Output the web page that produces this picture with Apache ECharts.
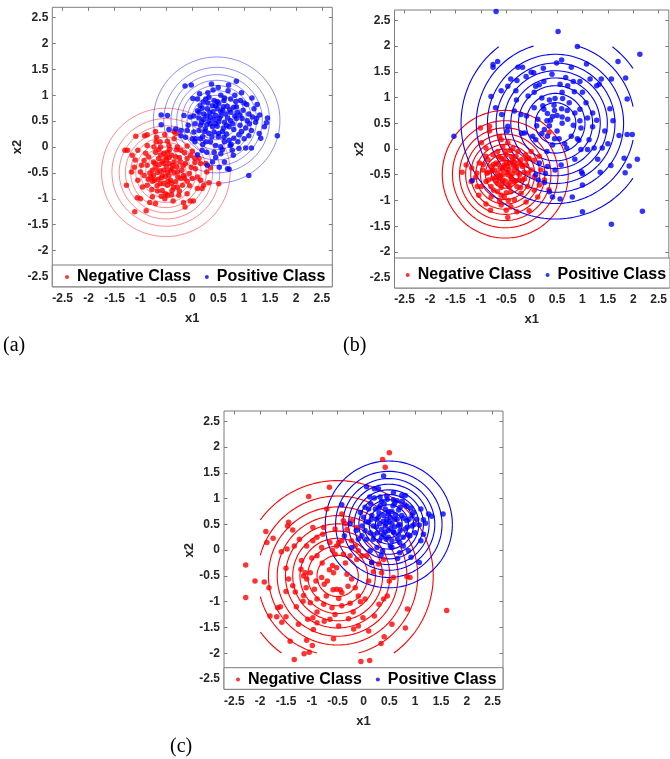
<!DOCTYPE html>
<html>
<head>
<meta charset="utf-8">
<script src="https://cdn.jsdelivr.net/npm/echarts@6/dist/echarts.min.js"></script>
<style>
  html, body { margin: 0; padding: 0; background: #fff; }
  #chart { width: 670px; height: 759px; }
</style>
</head>
<body>
<div id="chart"></div>
<script>
// ---- tick values shared by every panel ----
const tickValues = [-2.5, -2, -1.5, -1, -0.5, 0, 0.5, 1, 1.5, 2, 2.5];
const axisMin = -2.7, axisMax = 2.7;
const classNames = ['Negative Class', 'Positive Class'];
const panelTags = ['(a)', '(b)', '(c)'];

// ---- panel (a): samples ----
const negA = [[-1.11,-1.25],[-0.89,-1.23],[-1.27,-0.74],[-1.30,-0.06],[-1.25,-0.06],[-1.09,0.21],[-0.92,0.22],[-0.87,0.24],[-0.71,0.30],[-0.69,0.19],[-0.53,0.24],[-0.35,0.30],[-0.31,0.26],[-1.06,-0.98],[-1.00,-1.00],[-0.82,-1.07],[-0.71,-1.09],[-0.53,-1.00],[-0.48,-0.93],[-0.37,-1.04],[-0.17,-1.07],[-0.14,-1.16],[-0.04,-1.04],[0.02,-1.04],[0.19,-0.80],[0.22,-0.74],[0.32,-0.69],[0.51,-0.71],[0.35,-0.40],[0.28,-0.48],[0.16,-0.32],[0.13,-0.22],[0.05,-0.21],[-0.03,-0.16],[-0.15,-0.11],[-0.10,0.02],[-0.22,-0.06],[-0.29,0.00],[-0.45,0.03],[-0.61,0.00],[-0.74,0.00],[-0.87,0.03],[-1.05,-0.06],[-1.16,-0.16],[-1.12,-0.39],[-1.17,-0.48],[-1.00,-0.48],[-1.05,-0.64],[-0.96,-0.77],[-0.87,-0.74],[-0.77,-0.66],[-0.67,-0.85],[-0.58,-0.84],[-0.62,-0.71],[-0.48,-0.74],[-0.39,-0.84],[-0.29,-0.77],[-0.19,-0.74],[-0.10,-0.66],[0.00,-0.61],[0.10,-0.58],[-0.06,-0.51],[-0.17,-0.55],[-0.29,-0.48],[-0.39,-0.42],[-0.48,-0.48],[-0.58,-0.55],[-0.67,-0.49],[-0.77,-0.45],[-0.87,-0.35],[-0.75,-0.29],[-0.64,-0.34],[-0.55,-0.32],[-0.45,-0.32],[-0.35,-0.29],[-0.24,-0.29],[-0.13,-0.32],[-0.02,-0.39],[0.06,-0.42],[-0.61,-0.16],[-0.51,-0.19],[-0.40,-0.16],[-0.32,-0.19],[-0.48,-0.10],[-0.71,-0.10],[-0.84,-0.19],[-0.93,-0.26],[-0.93,-0.55],[-0.80,-0.58],[-0.73,-0.64],[-0.42,-0.64],[-0.32,-0.67],[-0.22,-0.61],[-0.52,-0.90],[-0.77,-0.96],[-0.26,-0.93],[-0.10,-0.90],[0.10,-0.80],[0.16,-0.64],[0.26,-0.32],[0.00,-0.08],[-0.35,0.16],[-0.48,0.11],[-0.62,0.10],[-0.55,-0.45],[-0.60,-0.60],[-0.45,-0.55],[-0.50,-0.38],[-0.70,-0.40],[-0.35,-0.50],[-0.65,-0.22],[-0.40,-0.70],[-0.55,-0.70],[-0.30,-0.38],[-0.20,-0.45],[-0.75,-0.55],[-0.45,-0.20],[-0.85,-0.62],[-0.25,-0.20],
  [-0.58,-0.28],[-0.42,-0.45],[-0.66,-0.62],[-0.52,-0.57],[-0.38,-0.35],[-0.62,-0.46],[-0.47,-0.66],[-0.72,-0.32],[-0.28,-0.58],[-0.55,-0.12],[-0.82,-0.50],[-0.36,-0.78],[-0.18,-0.36],[-0.68,-0.75],[-0.90,-0.12],[-0.44,-0.05],[-0.10,-0.22],[-0.60,-0.95],[-0.30,-0.05],[-0.98,-0.35],[-0.15,-0.60],[-0.05,-0.75],[0.05,-0.30],[-0.78,-0.82],[-1.10,-0.25],[-0.40,-0.92],[-0.70,0.10],[-0.25,-0.85],[-0.50,-0.25],[-0.65,-0.05]];
const posA = [[0.85,1.27],[-0.02,1.20],[-0.14,1.18],[0.37,1.22],[0.69,1.09],[0.55,1.00],[0.14,1.03],[0.01,0.94],[0.10,0.93],[0.21,0.87],[0.26,0.93],[0.32,0.96],[0.42,0.90],[0.51,0.84],[0.61,0.90],[0.74,0.93],[0.84,0.88],[0.93,0.90],[1.05,0.82],[0.80,0.77],[0.67,0.79],[0.58,0.71],[0.48,0.74],[0.39,0.80],[0.29,0.74],[0.19,0.75],[0.13,0.67],[0.22,0.64],[0.34,0.67],[0.45,0.61],[0.55,0.60],[0.64,0.64],[0.74,0.67],[0.87,0.67],[0.98,0.71],[1.09,0.64],[1.19,0.74],[1.25,0.82],[1.16,0.58],[1.06,0.51],[0.96,0.55],[0.85,0.55],[0.74,0.51],[0.62,0.48],[0.51,0.49],[0.42,0.53],[0.32,0.51],[0.22,0.53],[0.13,0.56],[0.03,0.60],[-0.04,0.58],[-0.16,0.61],[0.16,0.42],[0.28,0.43],[0.39,0.39],[0.48,0.40],[0.60,0.37],[0.71,0.39],[0.80,0.34],[0.92,0.42],[1.03,0.37],[1.14,0.32],[1.22,0.48],[1.24,0.55],[1.45,0.56],[1.43,0.47],[1.39,0.39],[1.29,0.26],[1.32,0.17],[1.64,0.22],[1.09,0.22],[1.00,0.16],[0.90,0.24],[0.80,0.17],[0.71,0.13],[0.61,0.19],[0.51,0.26],[0.42,0.29],[0.32,0.26],[0.24,0.30],[0.13,0.32],[0.03,0.29],[-0.10,0.32],[-0.22,0.32],[-0.32,0.35],[-0.45,0.34],[-0.48,0.61],[-0.60,0.62],[-0.60,0.43],[-0.22,0.22],[-0.13,0.19],[0.06,0.16],[0.16,0.16],[0.26,0.10],[0.35,0.10],[0.45,0.03],[0.55,0.00],[0.62,0.10],[0.73,0.03],[0.77,-0.06],[0.90,-0.03],[1.03,-0.02],[1.14,-0.02],[0.79,-0.16],[0.55,-0.13],[0.42,-0.10],[0.28,-0.10],[0.19,-0.06],[0.10,-0.15],[0.39,-0.29],[0.62,-0.29],[0.71,-0.43],[1.09,-0.55],[0.29,-0.35],[0.52,-0.39],[0.00,0.16],[0.45,0.45],[0.55,0.68],[0.35,0.58],[0.68,0.56],[0.60,0.78],[0.30,0.85],[0.45,0.80],[0.78,0.45],[0.50,0.20],[0.66,0.25],[0.20,0.20],[0.92,0.62],[0.05,0.45],[0.25,0.35],[0.85,0.78],[0.40,1.10],[0.70,1.20],[0.95,1.05],[1.15,0.95],[0.15,0.80],
  [0.52,0.55],[0.40,0.68],[0.66,0.42],[0.58,0.30],[0.35,0.45],[0.72,0.72],[0.28,0.60],[0.82,0.60],[0.48,0.88],[0.62,0.95],[0.18,0.48],[0.95,0.30],[0.38,0.20],[0.75,0.05],[0.20,0.05],[1.00,0.85],[0.10,0.70],[0.58,-0.05],[0.88,0.10],[1.10,0.45],[0.30,1.05],[0.05,0.10],[0.68,-0.42],[0.50,1.15],[0.82,1.00],[-0.08,0.42],[1.30,0.62],[0.45,-0.20]];

// ---- panel (b): samples ----
const negB = [[-1.01,0.41],[-0.83,0.35],[-0.83,0.44],[-0.63,0.25],[-0.60,0.18],[-0.99,0.12],[-0.90,0.02],[-0.42,-0.03],[-0.27,-0.05],[-0.12,-0.11],[-0.05,-0.18],[0.05,-0.22],[0.18,-0.41],[0.25,-0.60],[0.15,-0.70],[0.05,-0.80],[-0.05,-1.20],[-0.29,-1.22],[-0.47,-1.33],[-0.50,-1.19],[-0.63,-1.01],[-0.81,-1.19],[-0.90,-1.07],[-1.04,-0.90],[-1.07,-0.73],[-1.19,-0.63],[-1.37,-0.45],[-1.29,-0.31],[-1.18,-0.37],[-1.03,-0.27],[-0.96,-0.41],[-0.88,-0.47],[-0.80,-0.34],[-0.70,-0.27],[-0.60,-0.18],[-0.50,-0.11],[-0.37,-0.21],[-0.27,-0.27],[-0.18,-0.34],[-0.08,-0.47],[-0.18,-0.60],[-0.29,-0.73],[-0.41,-0.83],[-0.54,-0.93],[-0.67,-0.83],[-0.80,-0.73],[-0.90,-0.63],[-0.77,-0.57],[-0.67,-0.47],[-0.57,-0.41],[-0.47,-0.34],[-0.34,-0.41],[-0.24,-0.50],[-0.34,-0.63],[-0.47,-0.70],[-0.57,-0.60],[-0.67,-0.67],[-0.47,-0.50],[-0.57,-0.50],[-0.41,-0.54],[-0.63,-0.57],[-0.73,-0.41],[-0.44,-0.27],[-0.54,-0.31],[-0.31,-0.14],[-0.21,-0.21],[-0.11,-0.31],[-0.01,-0.41],[0.05,-0.54],[-0.08,-0.73],[-0.21,-0.86],[-0.34,-0.99],[-0.11,-1.03],[0.12,-0.93],[-0.99,-0.73],[-1.08,-0.47],[-0.86,-0.21],[-0.76,-0.11],[-0.67,-0.05],[-0.57,0.05],[-0.47,0.12],[-0.37,0.02],[-0.90,-0.14],[-0.80,-0.93],[-0.60,-1.09],[-0.41,-1.12],[0.15,-0.14],[-0.01,-0.05],[0.34,0.32],[0.34,-0.79],[-0.55,-0.20],[-0.45,-0.40],[-0.62,-0.38],[-0.38,-0.48],[-0.52,-0.62],[-0.70,-0.55],[-0.30,-0.35],[-0.42,-0.65],[-0.60,-0.75],[-0.25,-0.60],[-0.75,-0.30],[-0.35,-0.25],[-0.15,-0.45],[-0.85,-0.45],[-0.50,-0.85],[-0.65,-0.15],
  [-0.48,-0.45],[-0.56,-0.36],[-0.40,-0.58],[-0.62,-0.52],[-0.50,-0.28],[-0.36,-0.32],[-0.70,-0.62],[-0.44,-0.74],[-0.28,-0.46],[-0.58,-0.68],[-0.66,-0.30],[-0.32,-0.62],[-0.78,-0.42],[-0.20,-0.30],[-0.52,-0.05],[-0.85,-0.60],[-0.14,-0.58],[-0.60,-0.90],[-0.95,-0.30],[-0.40,-0.15],[-0.10,-0.20],[-0.75,-0.80],[-0.22,-0.75],[-1.10,-0.55],[-0.46,-1.00]];
const posB = [[-0.70,2.67],[0.52,2.28],[0.90,1.99],[2.13,1.84],[1.70,1.70],[0.59,1.73],[0.49,1.67],[1.08,1.65],[0.78,1.59],[-0.67,1.70],[-0.76,1.64],[-0.76,1.59],[-0.27,1.59],[-0.18,1.59],[-0.01,1.49],[0.04,1.48],[0.23,1.57],[-0.11,1.41],[-0.41,1.36],[-0.29,1.33],[0.24,1.31],[0.67,1.39],[0.82,1.31],[0.95,1.31],[1.15,1.36],[1.37,1.36],[1.57,1.36],[1.85,1.38],[1.28,1.23],[1.33,1.26],[0.71,1.23],[0.56,1.26],[0.08,1.22],[-0.47,1.22],[-0.60,1.13],[-0.31,1.13],[-0.07,1.03],[0.05,1.10],[0.20,0.99],[0.46,0.98],[0.61,0.98],[0.84,1.11],[1.07,0.90],[0.74,0.90],[0.22,0.84],[0.24,0.77],[0.44,0.85],[0.31,0.69],[0.41,0.63],[0.50,0.65],[0.59,0.78],[0.95,0.77],[1.54,0.78],[1.88,0.97],[-0.80,1.02],[-0.71,0.80],[-0.59,0.67],[-0.34,0.74],[-0.21,0.67],[-0.10,0.64],[0.12,0.58],[0.37,0.56],[0.71,0.58],[0.82,0.46],[0.97,0.41],[1.20,0.43],[1.28,0.56],[1.44,0.35],[1.72,0.26],[1.88,0.28],[1.98,0.28],[-1.53,0.25],[-0.47,0.44],[-0.48,0.35],[-0.14,0.31],[0.02,0.25],[0.08,0.18],[0.31,0.25],[0.54,0.20],[0.78,0.25],[0.93,0.17],[1.13,0.18],[0.41,0.08],[0.69,0.02],[0.97,-0.01],[1.10,-0.01],[1.23,0.02],[1.39,0.02],[1.82,-0.18],[2.08,-0.20],[1.56,-0.32],[1.92,-0.33],[1.84,-0.46],[1.35,-0.45],[0.98,-0.44],[1.00,-0.48],[0.58,-0.31],[0.46,-0.41],[0.31,-0.34],[0.15,-0.27],[0.08,-0.50],[0.27,-0.47],[0.25,-0.65],[0.41,-0.93],[0.56,-0.97],[0.80,-0.93],[1.00,-0.70],[1.00,-1.22],[2.18,-1.21],[1.57,-1.46],[-1.17,-0.61],[0.13,-0.60],[0.35,-0.83],[0.35,0.45],[0.50,0.35],[0.45,0.75],[0.60,0.50],[0.25,0.38],[0.85,0.70],[0.05,0.80],[0.15,1.25],[0.40,1.45],[1.00,1.10],[1.20,0.70],[0.95,0.55],[0.65,0.10],[0.30,-0.05],[1.60,0.55],[-0.30,0.95],[1.30,-0.20],[0.85,-0.20],
  [0.60,0.62],[0.30,0.55],[0.70,0.75],[0.45,0.20],[0.20,0.30],[0.90,0.20],[0.10,0.45],[1.10,0.60],[0.60,1.10],[0.35,0.95],[-0.20,0.30],[1.50,0.10]];

// ---- panel (c): samples ----
const negC = [[0.50,1.89],[0.37,1.76],[0.42,1.61],[-0.66,1.22],[-1.06,1.04],[-0.71,0.80],[-0.42,0.70],[-0.39,0.57],[-0.23,0.57],[-1.45,0.54],[-1.47,0.47],[-1.37,0.39],[-0.98,0.44],[-0.79,0.31],[-1.89,0.36],[-1.87,0.15],[-1.75,0.23],[-1.24,0.21],[-1.34,0.08],[-1.48,0.02],[-1.59,-0.03],[-1.10,0.08],[-0.98,0.18],[-0.90,-0.11],[-0.81,0.05],[-0.65,0.15],[-0.52,0.08],[-0.42,0.18],[-0.55,-0.08],[-0.39,-0.08],[-0.26,-0.11],[-0.13,-0.18],[-0.03,-0.11],[-2.28,-0.29],[-2.28,-0.92],[-2.10,-0.60],[-1.92,-0.62],[-1.83,-0.73],[-1.50,-0.35],[-1.45,-0.56],[-1.37,-0.69],[-1.32,-0.81],[-1.21,-0.37],[-1.16,-0.50],[-1.13,-0.44],[-1.10,-0.56],[-1.11,-0.73],[-1.03,-0.44],[-0.95,-0.76],[-0.92,-0.60],[-0.81,-0.53],[-0.76,-0.66],[-0.72,-0.89],[-0.66,-0.38],[-0.58,-0.44],[-0.52,-0.34],[-0.59,-0.77],[-0.52,-0.76],[-0.45,-0.77],[-0.42,-0.82],[-0.48,-0.94],[-0.32,-0.47],[-0.23,-0.56],[-0.16,-0.73],[-0.10,-0.89],[0.03,-0.95],[-0.06,-1.00],[-0.26,-1.03],[-0.42,-1.08],[-0.61,-1.12],[-0.77,-1.05],[-0.90,-0.95],[-1.03,-1.02],[-1.17,-0.99],[-1.16,-0.88],[-1.61,-1.10],[-1.66,-1.12],[-1.68,-1.29],[-1.58,-1.40],[-1.50,-1.29],[-1.26,-1.44],[-1.08,-1.34],[-0.98,-1.31],[-0.97,-1.54],[-0.90,-1.41],[-0.76,-1.38],[-0.65,-1.34],[-0.48,-1.47],[-0.29,-1.33],[-0.19,-1.53],[-0.10,-1.47],[-0.01,-1.31],[0.10,-1.57],[0.21,-1.28],[0.39,-0.95],[0.46,-0.89],[0.55,-1.44],[0.81,-1.51],[0.85,-1.14],[0.50,-0.60],[0.58,-0.53],[0.84,-0.51],[0.90,-0.53],[0.35,-0.44],[0.19,-0.42],[1.61,-1.17],[-1.42,-1.77],[-1.34,-2.12],[-1.15,-2.01],[-1.05,-1.98],[-0.99,-1.85],[-1.10,-1.75],[-0.58,-1.72],[-0.05,-2.16],[0.12,-2.14],[0.34,-1.81],[0.40,-1.68],[-1.81,-1.28],[-0.55,0.41],[-0.32,0.40],[-0.48,0.15],[-0.23,0.18],[-0.16,0.08],[-0.10,-0.01],[0.06,-0.11],[0.16,-0.24],[0.29,-0.27],[0.39,-0.18],[-0.35,0.51],[-0.13,0.44],[-0.90,0.25],[-0.77,0.44],
  [-0.60,-0.30],[-0.80,-0.25],[-0.35,-0.25],[-1.20,-0.20],[-0.70,-0.60],[-0.30,-0.70],[-0.90,-1.20],[-1.30,-1.10],[-0.20,-1.20],[0.10,-0.60],[-1.50,-0.80],[-0.60,0.00],[-1.00,-0.15],[-0.55,-1.25],[0.30,-1.05]];
const posC = [[0.39,1.44],[0.06,1.23],[0.21,1.19],[0.29,1.19],[0.58,1.12],[0.74,1.06],[0.81,1.06],[0.12,1.03],[0.21,1.01],[0.32,1.03],[0.46,0.99],[0.65,0.96],[0.57,0.86],[0.71,0.83],[0.84,0.85],[0.97,0.73],[1.11,0.80],[1.26,0.70],[1.32,0.66],[1.54,0.70],[1.16,0.59],[1.08,0.49],[1.16,0.31],[1.11,0.18],[1.08,-0.24],[0.92,-0.14],[0.87,-0.01],[0.77,0.08],[0.70,-0.05],[0.66,-0.16],[0.37,-0.01],[0.34,-0.10],[0.16,-0.24],[-0.10,0.21],[-0.23,0.05],[-0.37,0.28],[-0.42,0.88],[-0.26,0.51],[-0.14,0.38],[-0.03,0.47],[0.00,0.64],[-0.06,0.73],[0.03,0.83],[0.14,0.90],[0.23,0.80],[0.32,0.86],[0.42,0.80],[0.48,0.70],[0.39,0.67],[0.29,0.64],[0.16,0.67],[0.10,0.54],[0.19,0.47],[0.31,0.51],[0.42,0.47],[0.55,0.51],[0.65,0.60],[0.74,0.67],[0.84,0.57],[0.94,0.47],[0.81,0.41],[0.71,0.38],[0.59,0.34],[0.48,0.38],[0.39,0.31],[0.27,0.34],[0.13,0.34],[0.03,0.38],[-0.03,0.28],[0.06,0.21],[0.19,0.21],[0.31,0.18],[0.44,0.21],[0.55,0.18],[0.66,0.21],[0.77,0.25],[0.90,0.28],[1.00,0.34],[1.03,0.60],[0.94,0.67],[0.52,0.08],[0.26,0.05],[0.13,-0.01],[0.52,0.64],[0.50,0.55],[0.45,0.60],[0.60,0.45],[0.35,0.40],[0.55,0.75],[0.70,0.50],[0.40,0.90],[0.25,0.60],[0.62,0.68],[0.85,0.45],[0.48,0.25],[0.30,0.72],[0.75,0.95],[0.92,0.82],[0.58,0.98],[0.10,0.80],[0.20,0.30],[0.68,0.30],
  [0.52,0.42],[0.44,0.52],[0.60,0.60],[0.38,0.56],[0.58,0.35],[0.48,0.75],[0.68,0.78],[0.35,0.25],[0.78,0.62],[0.25,0.45],[0.60,0.90],[0.45,1.05],[0.88,0.60],[0.15,0.60],[0.70,0.15],[0.98,0.50],[0.35,0.95],[0.55,0.05],[0.80,0.88],[0.05,0.55],[1.20,0.52],[0.68,0.48],[0.42,0.35],[0.30,0.82],[0.86,0.30]];

// ---- density contour rings (centre and radii of each fitted Gaussian) ----
const negCentreA = [-0.51, -0.49], negRadiiA = [1.24, 1.04, 0.90, 0.78, 0.68, 0.58, 0.49, 0.39, 0.27];
const posCentreA = [0.47, 0.52],   posRadiiA = [1.22, 1.02, 0.88, 0.77, 0.67, 0.57, 0.48, 0.38, 0.26];
const negCentreB = [-0.52, -0.49], negRadiiB = [1.24, 1.04, 0.90, 0.78, 0.68, 0.58, 0.49, 0.39, 0.27];
const posCentreB = [0.47, 0.50],   posRadiiB = [1.86, 1.56, 1.34, 1.17, 1.02, 0.88, 0.73, 0.58, 0.40];
const negCentreC = [-0.50, -0.50], negRadiiC = [1.85, 1.55, 1.34, 1.17, 1.01, 0.87, 0.73, 0.58, 0.40];
const posCentreC = [0.49, 0.50],   posRadiiC = [1.23, 1.03, 0.89, 0.78, 0.67, 0.58, 0.48, 0.38, 0.26];
// contours were evaluated on the square [-2, 2] x [-2, 2]
const contourDomain = [-2, 2];

const RED = '#ff0000', BLUE = '#0000ff';
const BOX = '#7d7d7d';
const SANS = '"Liberation Sans", Arial, sans-serif';
const SERIF = '"Liberation Serif", "Times New Roman", serif';

// layout of the three panels
const panels = [
  { grid: { left: 52.3, top: 7.3, width: 280, height: 279.5 }, legendBoxTop: 265, legendTop: 269, legendLeft: 65,
    tagPos: [3, 336], nameGapY: 25, nameGapX: 25, ringWidth: 1, ringOpacity: 0.45,
    neg: negA, pos: posA, negRing: [negCentreA, negRadiiA], posRing: [posCentreA, posRadiiA] },
  { grid: { left: 394.5, top: 10, width: 275.5, height: 278 }, legendBoxTop: 258, legendTop: 267, legendLeft: 405.7,
    tagPos: [343, 336], nameGapY: 23, nameGapX: 25, ringWidth: 1.1, ringOpacity: 1,
    neg: negB, pos: posB, negRing: [negCentreB, negRadiiB], posRing: [posCentreB, posRadiiB] },
  { grid: { left: 224, top: 411, width: 279, height: 278.3 }, legendBoxTop: 667.7, legendTop: 671.5, legendLeft: 236,
    tagPos: [170, 737], nameGapY: 22, nameGapX: 26, ringWidth: 1.1, ringOpacity: 1,
    neg: negC, pos: posC, negRing: [negCentreC, negRadiiC], posRing: [posCentreC, posRadiiC] }
];

// Turns centre + radii into one polyline, broken between rings and outside the contour domain.
function ringPolyline(centre, radii) {
  const gap = ['-', '-'];
  const out = [];
  const inDomain = v => v >= contourDomain[0] && v <= contourDomain[1];
  radii.forEach(r => {
    for (let k = 0; k <= 360; k++) {
      const a = k * Math.PI / 180;
      const x = centre[0] + r * Math.cos(a);
      const y = centre[1] + r * Math.sin(a);
      out.push(inDomain(x) && inDomain(y) ? [x, y] : gap);
    }
    out.push(gap);
  });
  return out;
}

const tickLine = { color: BOX, width: 1 };
const hiddenLine = { show: false, onZero: false };
const grids = [], xAxes = [], yAxes = [], series = [], legends = [], graphics = [];

panels.forEach((p, i) => {
  grids.push(Object.assign({ show: true, borderColor: BOX, borderWidth: 1, backgroundColor: '#fff', containLabel: false }, p.grid));

  const label = { fontFamily: SANS, fontWeight: 'bold', fontSize: 12, color: '#262626' };
  const nameStyle = { fontFamily: SANS, fontWeight: 'bold', fontSize: 13, color: '#262626' };
  const ticks = { show: true, inside: true, length: 3.5, lineStyle: tickLine, customValues: tickValues };
  // bottom / left axes carry the labels, top / right only mirror the ticks
  xAxes.push({
    gridIndex: i, type: 'value', min: axisMin, max: axisMax, position: 'bottom',
    name: 'x1', nameLocation: 'middle', nameGap: p.nameGapX, nameTextStyle: nameStyle,
    axisLine: hiddenLine, splitLine: { show: false }, axisTick: ticks,
    axisLabel: Object.assign({ margin: 6, customValues: tickValues }, label)
  });
  xAxes.push({
    gridIndex: i, type: 'value', min: axisMin, max: axisMax, position: 'top',
    axisLine: hiddenLine, splitLine: { show: false }, axisLabel: { show: false }, axisTick: ticks
  });
  yAxes.push({
    gridIndex: i, type: 'value', min: axisMin, max: axisMax, position: 'left',
    name: 'x2', nameLocation: 'middle', nameGap: p.nameGapY, nameTextStyle: nameStyle,
    axisLine: hiddenLine, splitLine: { show: false }, axisTick: ticks,
    axisLabel: Object.assign({ margin: 4, customValues: tickValues }, label)
  });
  yAxes.push({
    gridIndex: i, type: 'value', min: axisMin, max: axisMax, position: 'right',
    axisLine: hiddenLine, splitLine: { show: false }, axisLabel: { show: false }, axisTick: ticks
  });

  const xi = 2 * i, yi = 2 * i;
  const ringStyle = (c) => ({ color: c, width: p.ringWidth, opacity: p.ringOpacity });
  series.push({
    type: 'line', name: 'neg-contour-' + i, xAxisIndex: xi, yAxisIndex: yi, silent: true,
    showSymbol: false, symbol: 'none', connectNulls: false, animation: false, z: 1,
    lineStyle: ringStyle(RED), data: ringPolyline(p.negRing[0], p.negRing[1])
  });
  series.push({
    type: 'line', name: 'pos-contour-' + i, xAxisIndex: xi, yAxisIndex: yi, silent: true,
    showSymbol: false, symbol: 'none', connectNulls: false, animation: false, z: 1,
    lineStyle: ringStyle(BLUE), data: ringPolyline(p.posRing[0], p.posRing[1])
  });
  series.push({
    type: 'scatter', name: classNames[0], xAxisIndex: xi, yAxisIndex: yi, animation: false, z: 3,
    symbol: 'circle', symbolSize: 5.5, itemStyle: { color: RED }, data: p.neg
  });
  series.push({
    type: 'scatter', name: classNames[1], xAxisIndex: xi, yAxisIndex: yi, animation: false, z: 3,
    symbol: 'circle', symbolSize: 5.5, itemStyle: { color: BLUE }, data: p.pos
  });

  // legend box across the foot of the axes
  graphics.push({
    type: 'rect', z: 100, silent: true,
    shape: { x: p.grid.left, y: p.legendBoxTop, width: p.grid.width, height: p.grid.top + p.grid.height - p.legendBoxTop },
    style: { fill: '#fff', stroke: BOX, lineWidth: 1 }
  });
  legends.push({
    data: classNames, left: p.legendLeft, top: p.legendTop, padding: 0, z: 110,
    icon: 'circle', itemWidth: 4, itemHeight: 4, itemGap: 14, selectedMode: false,
    textStyle: { fontFamily: SANS, fontWeight: 'bold', fontSize: 16, color: '#000', padding: [0, 0, 0, 3] }
  });
  graphics.push({
    type: 'text', x: p.tagPos[0], y: p.tagPos[1], z: 100, silent: true,
    style: { text: panelTags[i], font: '20px ' + SERIF, fill: '#000' }
  });
});

const chart = echarts.init(document.getElementById('chart'), null, { renderer: 'canvas' });
chart.setOption({
  backgroundColor: '#fff',
  animation: false,
  grid: grids,
  xAxis: xAxes,
  yAxis: yAxes,
  legend: legends,
  graphic: graphics,
  series: series
});
</script>
</body>
</html>
